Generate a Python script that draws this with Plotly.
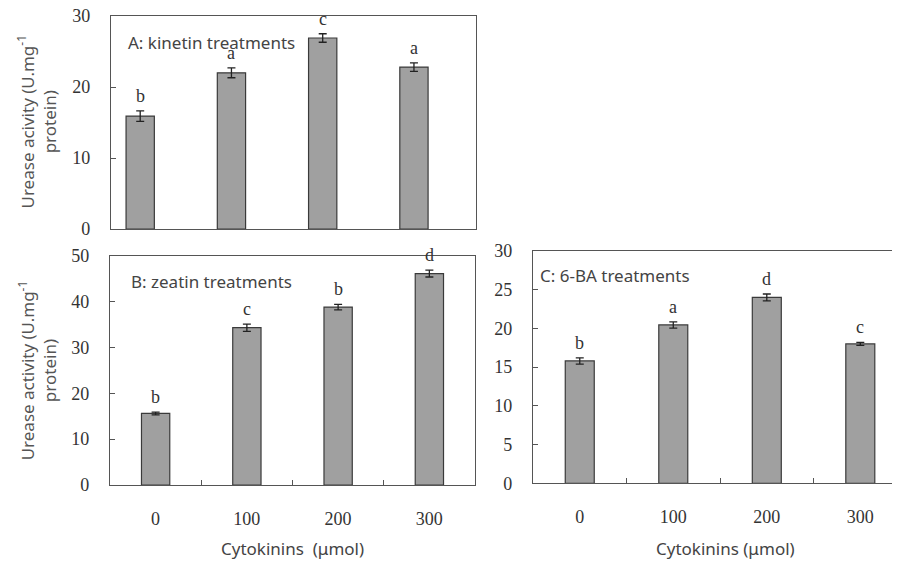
import plotly.graph_objects as go

# ---- data ----
doses = ["0", "100", "200", "300"]

kinetin_vals = [15.9, 22.0, 26.9, 22.8]
kinetin_err = [0.75, 0.7, 0.6, 0.6]
kinetin_letters = ["b", "a", "c", "a"]

zeatin_vals = [15.6, 34.3, 38.8, 46.1]
zeatin_err = [0.3, 0.8, 0.6, 0.75]
zeatin_letters = ["b", "c", "b", "d"]

ba_vals = [15.8, 20.45, 24.0, 18.0]
ba_err = [0.4, 0.4, 0.45, 0.2]
ba_letters = ["b", "a", "d", "c"]

y_ticks_A = [0, 10, 20, 30]
y_ticks_B = [0, 10, 20, 30, 40, 50]
y_ticks_C = [0, 5, 10, 15, 20, 25, 30]

# ---- style ----
BAR = "#a0a0a0"
EDGE = "#3a3a3a"
FRAME = "#555555"
TXT = "#333333"
SERIF = "Liberation Serif, Times New Roman, serif"
SANS = "Noto Sans, Open Sans, sans-serif"

W, H = 900, 563
OFF = 8  # page body margin


def px(a, b):
    return [(a - OFF) / W, min(1.0, (b - OFF) / W)]


def py(top, bottom):
    return [1 - (bottom - OFF) / H, 1 - (top - OFF) / H]


def ppx(x):
    return (x - OFF) / W


def ppy(y):
    return 1 - (y - OFF) / H


fig = go.Figure()

panels = [
    ("x", "y", kinetin_vals, kinetin_err, kinetin_letters),
    ("x2", "y2", zeatin_vals, zeatin_err, zeatin_letters),
    ("x3", "y3", ba_vals, ba_err, ba_letters),
]

for xa, ya, vals, errs, letters in panels:
    fig.add_trace(go.Bar(
        x=doses, y=vals, xaxis=xa, yaxis=ya, width=0.31,
        marker=dict(color=BAR, line=dict(color=EDGE, width=1.2)),
        error_y=dict(type="data", array=errs, visible=True,
                     color="#222222", thickness=1.3, width=4),
        showlegend=False, hoverinfo="skip",
    ))
    for i, (v, e, l) in enumerate(zip(vals, errs, letters)):
        fig.add_annotation(x=i, y=v + e, xref=xa, yref=ya, text=l,
                           showarrow=False, yanchor="bottom", yshift=3,
                           font=dict(family=SERIF, size=18, color=TXT))

common_x = dict(type="category", showline=True, linecolor=FRAME, linewidth=1.2,
                showgrid=False, zeroline=False, tickson="boundaries",
                ticks="inside", ticklen=5, tickcolor=FRAME, automargin=False,
                tickfont=dict(family=SERIF, size=18, color=TXT),
                ticklabelstandoff=17, ticklabeloverflow="allow")
common_y = dict(showline=True, linecolor=FRAME, linewidth=1.2, showgrid=False,
                zeroline=False, ticks="inside", ticklen=5, tickcolor=FRAME,
                automargin=False, ticklabeloverflow="allow",
                tickfont=dict(family=SERIF, size=18, color=TXT),
                ticklabelstandoff=16)

fig.update_layout(
    width=W, height=H, margin=dict(l=0, r=0, t=0, b=0, autoexpand=False),
    paper_bgcolor="white", plot_bgcolor="white",
    xaxis=dict(common_x, domain=px(111, 476), anchor="y", range=[-0.32, 3.68],
               mirror=True, showticklabels=False, ticks=""),
    yaxis=dict(common_y, domain=py(16, 229), anchor="x", range=[0, 30],
               tickvals=y_ticks_A, mirror=True),
    xaxis2=dict(common_x, domain=px(110, 475), anchor="y2", range=[-0.5, 3.5],
                mirror=True),
    yaxis2=dict(common_y, domain=py(255.7, 485), anchor="x2", range=[0, 50],
                tickvals=y_ticks_B, mirror=True),
    xaxis3=dict(common_x, domain=px(533, 908), anchor="y3", range=[-0.5, 3.51],
                mirror=True),
    yaxis3=dict(common_y, domain=py(251, 483.3), anchor="x3", range=[0, 30],
                tickvals=y_ticks_C, mirror=False),
)

# panel labels
for txt, xpos, ypos in [
    ("A: kinetin treatments", 126, 42),
    ("B: zeatin treatments", 129, 281.7),
    ("C: 6-BA treatments", 538, 275),
]:
    fig.add_annotation(x=ppx(xpos), y=ppy(ypos), xref="paper", yref="paper",
                       text=txt, showarrow=False, xanchor="left", yanchor="middle",
                       font=dict(family=SANS, size=17, color="#444444"))

# y-axis titles
for txt, ydom in [("Urease acivity (U.mg<sup>-1</sup><br>protein)", "y domain"),
                  ("Urease activity (U.mg<sup>-1</sup><br>protein)", "y2 domain")]:
    fig.add_annotation(x=ppx(37), y=0.5, xref="paper", yref=ydom, text=txt,
                       textangle=-90, showarrow=False, xanchor="center",
                       yanchor="middle",
                       font=dict(family=SANS, size=17, color="#555555"))

# x-axis titles
for txt, xc in [("Cytokinins&nbsp;&nbsp;(μmol)", 292.5), ("Cytokinins (μmol)", 725)]:
    fig.add_annotation(x=ppx(xc), y=ppy(548), xref="paper", yref="paper",
                       text=txt, showarrow=False, xanchor="center", yanchor="middle",
                       font=dict(family=SANS, size=17, color="#444444"))

fig.write_html("out.html")
